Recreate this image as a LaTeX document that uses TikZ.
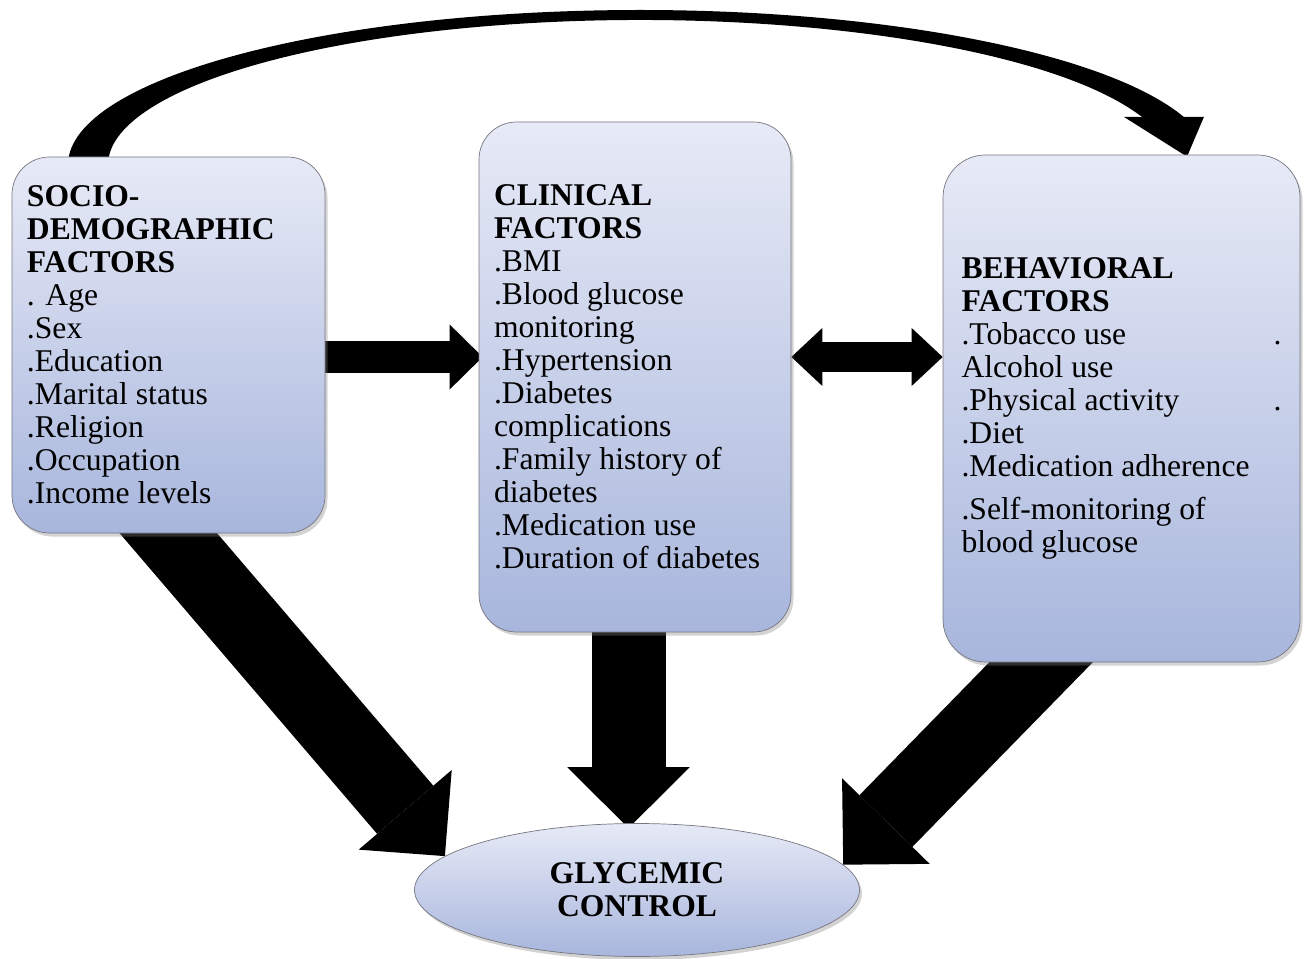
\documentclass[tikz,border=0pt]{standalone}
\usepackage{fontspec}
\setmainfont{Liberation Serif}
\usetikzlibrary{arrows.meta, shapes.geometric, shadows, calc}
\definecolor{boxtop}{RGB}{231,234,246}
\definecolor{boxbot}{RGB}{168,182,221}
\definecolor{boxline}{RGB}{118,118,128}
\pgfdeclarelayer{background}
\pgfsetlayers{background,main}
\tikzset{
  factorbox/.style={rectangle, rounded corners=0.75cm, draw=boxline, top color=boxtop, bottom color=boxbot,
    align=flush left, inner xsep=0.3cm, font=\fontsize{18}{18.8}\selectfont,
    drop shadow={opacity=0.35, shadow xshift=0.05cm, shadow yshift=-0.07cm}},
  outcome/.style={ellipse, draw=boxline, top color=boxtop, bottom color=boxbot, align=center,
    font=\bfseries\fontsize{18}{18.8}\selectfont,
    drop shadow={opacity=0.35, shadow xshift=0.05cm, shadow yshift=-0.07cm}},
  bigarrow/.style={line width=1.48cm, -{Triangle[length=1.22cm, width=2.45cm, line width=0pt]}},
  sidearrow/.style={line width=0.64cm, -{Triangle[length=0.66cm, width=1.3cm, line width=0pt]}},
  bothway/.style={line width=0.6cm, {Triangle[length=0.62cm, width=1.16cm, line width=0pt]}-{Triangle[length=0.62cm, width=1.16cm, line width=0pt]}}
}

\begin{document}
\begin{tikzpicture}
\useasboundingbox (0,0) rectangle (26.16,-19.18);

\node[factorbox, text width=5.66cm, minimum width=6.26cm, minimum height=7.52cm] (soc) at (3.37,-6.90)
  {\textbf{SOCIO-}\\ \textbf{DEMOGRAPHIC}\\ \textbf{FACTORS}\\ . Age\\ .Sex\\ .Education\\ .Marital status\\ .Religion\\ .Occupation\\ .Income levels};
\node[factorbox, text width=5.64cm, minimum width=6.24cm, minimum height=10.2cm] (clin) at (12.70,-7.54)
  {\textbf{CLINICAL}\\ \textbf{FACTORS}\\ .BMI\\ .Blood glucose\\ monitoring\\ .Hypertension\\ .Diabetes\\ complications\\ .Family history of\\ diabetes\\ .Medication use\\ .Duration of diabetes};
\node[factorbox, rounded corners=0.85cm, text width=6.4cm, minimum width=7.14cm, minimum height=10.14cm] (beh) at (22.43,-8.17)
  {\textbf{BEHAVIORAL}\\ \textbf{FACTORS}\\ .Tobacco use\hfill .\\ Alcohol use\\ .Physical activity\hfill .\\ .Diet\\ .Medication adherence\\[6pt] .Self-monitoring of\\ blood glucose};
\node[outcome, minimum width=8.9cm, minimum height=2.66cm] (glyc) at (12.74,-17.8) {GLYCEMIC\\ CONTROL};

\coordinate (arcc) at (12.8,-3.3);
\coordinate (sa) at ($(soc.east)+(-0.08,-0.24)$);
\coordinate (ba) at ($(clin.east)+(0,0.4)$);

\begin{pgfonlayer}{background}
  % curved arrow over the top
  \fill ($(arcc)+(183.7:11.44cm and 3.1cm)$) arc[start angle=183.7, end angle=18.04, x radius=11.44cm, y radius=3.1cm]
    -- ++(0.4,0) -- ($(beh.north)+(1.31,-0.04)$) -- (22.48,-2.34)
    -- ($(arcc)+(19.33:10.64cm and 2.9cm)$) arc[start angle=19.33, end angle=183.95, x radius=10.64cm, y radius=2.9cm] -- cycle;
  \draw[sidearrow] (sa) -- ($(clin.west |- sa)+(0.08,0)$);
  \draw[bothway] (ba) -- (beh.west |- ba);
  \draw[bigarrow] ($(soc.south)+(-0.78,0.91)$) -- (glyc.170);
  \draw[bigarrow] ($(clin.south)+(-0.13,0.5)$) -- ($(clin.south |- glyc.north)+(-0.13,-0.1)$);
  \draw[bigarrow] ($(beh.south)+(-0.79,0.84)$) -- (glyc.7);
\end{pgfonlayer}
\end{tikzpicture}
\end{document}
